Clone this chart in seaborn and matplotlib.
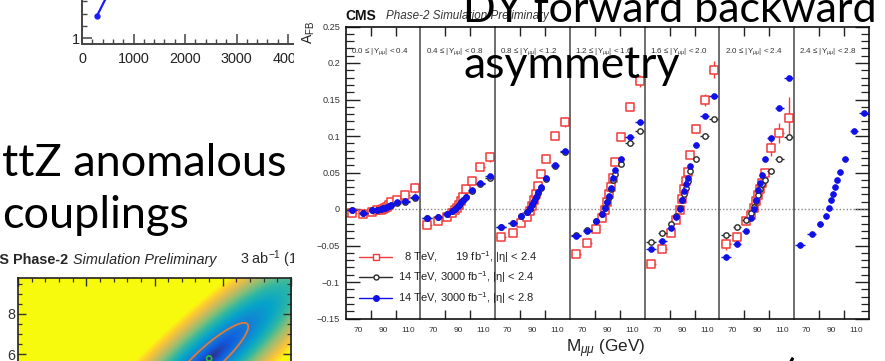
import numpy as np
import pandas as pd
import matplotlib
matplotlib.use("Agg")
import matplotlib.pyplot as plt
from matplotlib.lines import Line2D
from matplotlib.colors import LinearSegmentedColormap, PowerNorm
from matplotlib.ticker import MultipleLocator
import seaborn as sns

# ---------------------------------------------------------------- data
RAPIDITY_EDGES = ["0.0", "0.4", "0.8", "1.2", "1.6", "2.0", "2.4", "2.8"]
MASS_CENTERS = [65, 74, 81, 85.5, 88, 89.6, 91.2, 92.8, 94.4, 96.5, 101, 108, 116]
MASS_HALF_WIDTHS = [4, 3.5, 2.5, 1.5, 1, 0.8, 0.8, 0.8, 0.8, 1, 2.5, 3.5, 4]
MASS_TICK_LABELS = ["70", "90", "110"]
AFB_TICKS = [-0.15, -0.1, -0.05, 0, 0.05, 0.1, 0.15, 0.2, 0.25]
AFB_TICK_LABELS = ["\u22120.15", "\u22120.1", "\u22120.05", "0", "0.05", "0.1", "0.15", "0.2", "0.25"]

# 8 TeV, 19 fb-1, |eta| < 2.4 (rapidity bins 1-6)
AFB_8TEV = [
    [-0.006, -0.007, -0.004, -0.002, -0.001, 0.000, 0.001, 0.003, 0.005, 0.0095, 0.013, 0.019, 0.029],
    [-0.022, -0.017, -0.011, -0.006, -0.002, 0.002, 0.006, 0.011, 0.017, 0.027, 0.039, 0.058, 0.071],
    [-0.038, -0.0325, -0.0195, -0.0105, -0.003, 0.004, 0.012, 0.021, 0.032, 0.0475, 0.069, 0.100, 0.1195],
    [-0.061, -0.047, -0.027, -0.0128, -0.002, 0.010, 0.020, 0.030, 0.042, 0.064, 0.098, 0.140, 0.175],
    [-0.075, -0.055, -0.033, -0.015, -0.001, 0.014, 0.027, 0.039, 0.051, 0.074, 0.109, 0.149, 0.191],
    [-0.048, -0.039, -0.017, -0.008, 0.002, 0.011, 0.019, 0.028, 0.036, 0.050, 0.083, 0.104, 0.125],
]
AFB_8TEV_ERR = [
    [0.003, 0.002, 0.002, 0.002, 0.001, 0.001, 0.001, 0.001, 0.001, 0.002, 0.003, 0.004, 0.007],
    [0.003, 0.002, 0.002, 0.002, 0.001, 0.001, 0.001, 0.001, 0.001, 0.002, 0.003, 0.005, 0.007],
    [0.003, 0.003, 0.002, 0.002, 0.001, 0.001, 0.001, 0.001, 0.002, 0.002, 0.004, 0.005, 0.007],
    [0.004, 0.003, 0.002, 0.002, 0.001, 0.001, 0.001, 0.002, 0.002, 0.003, 0.004, 0.006, 0.008],
    [0.005, 0.004, 0.003, 0.002, 0.002, 0.002, 0.002, 0.002, 0.003, 0.004, 0.005, 0.008, 0.012],
    [0.008, 0.007, 0.005, 0.004, 0.003, 0.003, 0.003, 0.003, 0.004, 0.005, 0.010, 0.014, 0.028],
]
# 14 TeV, 3000 fb-1, |eta| < 2.4 (rapidity bins 1-6)
AFB_14TEV_ETA24 = [
    [-0.002, -0.005, -0.002, -0.001, 0.000, 0.001, 0.002, 0.003, 0.004, 0.005, 0.008, 0.010, 0.015],
    [-0.0125, -0.011, -0.007, -0.003, 0.000, 0.003, 0.006, 0.009, 0.0125, 0.0165, 0.025, 0.0345, 0.043],
    [-0.0245, -0.019, -0.0095, -0.0045, 0.0005, 0.006, 0.0105, 0.0165, 0.0225, 0.029, 0.041, 0.059, 0.0775],
    [-0.036, -0.029, -0.016, -0.007, 0.001, 0.009, 0.017, 0.027, 0.040, 0.048, 0.0616, 0.091, 0.107],
    [-0.0447, -0.0333, -0.0205, -0.009, 0.001, 0.012, 0.021, 0.029, 0.038, 0.052, 0.068, 0.100, 0.123],
    [-0.035, -0.025, -0.015, -0.006, 0.003, 0.011, 0.019, 0.027, 0.034, 0.040, 0.052, 0.068, 0.098],
]
# 14 TeV, 3000 fb-1, |eta| < 2.8 (rapidity bins 1-7)
AFB_14TEV_ETA28 = [
    [-0.001, -0.005, -0.002, -0.001, 0.000, 0.001, 0.002, 0.003, 0.004, 0.005, 0.009, 0.0105, 0.016],
    [-0.012, -0.0105, -0.0065, -0.0025, 0.0005, 0.003, 0.006, 0.0095, 0.013, 0.017, 0.026, 0.036, 0.045],
    [-0.024, -0.0187, -0.009, -0.004, 0.001, 0.0065, 0.011, 0.017, 0.023, 0.030, 0.042, 0.060, 0.0795],
    [-0.0365, -0.0297, -0.0164, -0.0068, 0.001, 0.010, 0.018, 0.029, 0.043, 0.054, 0.068, 0.098, 0.119],
    [-0.0548, -0.0438, -0.0256, -0.0105, -0.0005, 0.013, 0.0247, 0.034, 0.043, 0.059, 0.087, 0.127, 0.155],
    [-0.066, -0.048, -0.0297, -0.0128, -0.0005, 0.013, 0.026, 0.036, 0.046, 0.068, 0.097, 0.139, 0.179],
    [-0.049, -0.034, -0.021, -0.0096, 0.001, 0.012, 0.021, 0.030, 0.040, 0.051, 0.069, 0.107, 0.131],
]
LEGEND_LABELS = [
    "  8 TeV,      19 fb$^{-1}$, |\u03b7| < 2.4",
    "14 TeV, 3000 fb$^{-1}$, |\u03b7| < 2.4",
    "14 TeV, 3000 fb$^{-1}$, |\u03b7| < 2.8",
]

# significance-vs-luminosity projection (upper left inset)
LUMI_POINTS = [290, 500]
SIGNIF_POINTS = [1.45, 1.89]
LUMI_TICK_LABELS = ["0", "1000", "2000", "3000", "4000"]

# ttZ coupling likelihood scan (lower left inset)
TTZ_Y_TICKS = [6, 8]
TTZ_BEST_FIT = (0.40, 5.79)
TTZ_CONTOUR_LEVEL = 2.3

# ---------------------------------------------------------------- style
sns.set_theme(style="ticks")
plt.rcParams["font.family"] = ["Liberation Sans", "DejaVu Sans"]
plt.rcParams["mathtext.fontset"] = "custom"
plt.rcParams["mathtext.rm"] = "Liberation Sans"
plt.rcParams["mathtext.it"] = "Liberation Sans:italic"
plt.rcParams["mathtext.bf"] = "Liberation Sans:bold"
SLIDE_FONT = ["Lato", "DejaVu Sans"]

W, H = 885, 361
fig = plt.figure(figsize=(W / 100, H / 100), dpi=100)
fig.patch.set_facecolor("white")


def box(x0, y0, x1, y1):
    """Axes rectangle from pixel corners (y measured from the top)."""
    return [x0 / W, 1 - y1 / H, (x1 - x0) / W, (y1 - y0) / H]


def fx(x):
    return x / W


def fy(y):
    return 1 - y / H


# ---------------------------------------------------------------- upper-left inset
ax_l = fig.add_axes(box(82, -60, 303.5, 43.7), zorder=0)
ax_l.plot(LUMI_POINTS, SIGNIF_POINTS, color="#1a1aff", lw=1.6, marker="o", ms=3.5)
ax_l.set_xlim(0, 4300)
ax_l.set_ylim(0.884, 3.0)
ax_l.set_xticks([0, 1000, 2000, 3000, 4000])
ax_l.set_xticklabels(LUMI_TICK_LABELS)
ax_l.xaxis.set_minor_locator(MultipleLocator(200))
ax_l.set_yticks([1, 2])
ax_l.set_yticklabels(["1", "2"])
ax_l.yaxis.set_minor_locator(MultipleLocator(0.25))
ax_l.tick_params(which="major", direction="in", length=7, width=1.1, colors="#444",
                 labelcolor="#222", labelsize=10.4)
ax_l.tick_params(axis="x", which="major", pad=6)
ax_l.tick_params(axis="y", which="major", pad=1.5)
ax_l.tick_params(which="minor", direction="in", length=3.5, width=1.0, colors="#444")
for s in ("top", "right"):
    ax_l.spines[s].set_visible(False)
for s in ("left", "bottom"):
    ax_l.spines[s].set_color("#444")
    ax_l.spines[s].set_linewidth(1.4)
ax_l.patch.set_alpha(0)

# ---------------------------------------------------------------- lower-left inset
bird = LinearSegmentedColormap.from_list("bird", [
    (0.2082, 0.1664, 0.5293), (0.0592, 0.3599, 0.8684), (0.0780, 0.5041, 0.8385),
    (0.0232, 0.6419, 0.7914), (0.1802, 0.7178, 0.6425), (0.5301, 0.7492, 0.4662),
    (0.8186, 0.7328, 0.3499), (0.9956, 0.7862, 0.1968), (0.9764, 0.9832, 0.0539)])

ax_h = fig.add_axes(box(18, 277.7, 291, 394.6), zorder=0)
ax_h.set_xlim(-1.0, 1.0)
ax_h.set_ylim(4.0, 9.8)
gx = np.linspace(-1.0, 1.0, 400)
gy = np.linspace(4.0, 9.8, 240)
GX, GY = np.meshgrid(gx, gy)
# Gaussian -2 dlnL with a strong correlation between the two couplings
disp = ax_h.transData.transform(np.column_stack([GX.ravel(), GY.ravel()]))
best = ax_h.transData.transform([TTZ_BEST_FIT])[0]
d = disp - best
theta = np.deg2rad(42)
u = d[:, 0] * np.cos(theta) + d[:, 1] * np.sin(theta)
v = -d[:, 0] * np.sin(theta) + d[:, 1] * np.cos(theta)
chi2 = ((u / 34.0) ** 2 + (v / 8.0) ** 2).reshape(GX.shape)
ax_h.imshow(chi2, origin="lower", extent=(-1.0, 1.0, 4.0, 9.8), aspect="auto",
            cmap=bird, norm=PowerNorm(gamma=0.5, vmin=0, vmax=40), interpolation="bilinear")
ax_h.contour(GX, GY, chi2, levels=[TTZ_CONTOUR_LEVEL], colors=["#e07a3a"], linewidths=1.3)
ax_h.scatter([TTZ_BEST_FIT[0]], [TTZ_BEST_FIT[1]], s=14, facecolor="none",
             edgecolor="#22c43a", linewidth=1.2, zorder=4)
ax_h.set_yticks(TTZ_Y_TICKS)
ax_h.set_yticklabels([str(t) for t in TTZ_Y_TICKS])
ax_h.yaxis.set_minor_locator(MultipleLocator(0.5))
ax_h.xaxis.set_major_locator(MultipleLocator(0.5))
ax_h.xaxis.set_minor_locator(MultipleLocator(0.1))
ax_h.tick_params(which="major", direction="in", length=6, width=1.0, top=True, right=True,
                 labelbottom=False, labelsize=10.4, pad=2, colors="#333")
ax_h.tick_params(which="minor", direction="in", length=3, width=0.9, top=True, right=True,
                 colors="#333")
for s in ax_h.spines.values():
    s.set_color("#222")
    s.set_linewidth(1.2)

fig.text(fx(68), fy(264), "CMS Phase-2", ha="right", va="baseline", fontsize=10.4,
         fontweight="bold", zorder=0.5)
fig.text(fx(73), fy(264), "Simulation Preliminary", ha="left", va="baseline",
         fontsize=10.4, style="italic", zorder=0.5)
fig.text(fx(240), fy(264), "3 ab$^{-1}$ (14 TeV)", ha="left", va="baseline",
         fontsize=10.4, zorder=0.5)

# ---------------------------------------------------------------- white backdrop of the A_FB figure
ax_bg = fig.add_axes(box(294, 0, 885, 361), zorder=1)
ax_bg.set_xticks([])
ax_bg.set_yticks([])
for s in ax_bg.spines.values():
    s.set_visible(False)
ax_bg.set_facecolor("white")

# ---------------------------------------------------------------- A_FB panels
rows = []
series_info = [
    ("8tev", AFB_8TEV, AFB_8TEV_ERR),
    ("14tev24", AFB_14TEV_ETA24, None),
    ("14tev28", AFB_14TEV_ETA28, None),
]
for name, values, errors in series_info:
    for p, vals in enumerate(values):
        for i, (m, a) in enumerate(zip(MASS_CENTERS, vals)):
            rows.append(dict(panel=p, series=name, mass=m, afb=a,
                             xerr=MASS_HALF_WIDTHS[i],
                             yerr=errors[p][i] if errors is not None else 0.0))
df = pd.DataFrame(rows)

styles = {
    "8tev": dict(color="#f23a3a", marker="s", s=28, open=True, lw=1.1, z=3),
    "14tev24": dict(color="#2b2b2b", marker="o", s=15, open=True, lw=1.0, z=4),
    "14tev28": dict(color="#1010e8", marker="o", s=17, open=False, lw=0.6, z=5),
}

PX0, PW, TOP, BOT = 345.7, 74.75, 26.5, 318.5
panels = []
for p in range(7):
    x0 = PX0 + p * PW
    ax = fig.add_axes(box(x0, TOP, x0 + PW, BOT), zorder=2)
    panels.append(ax)
    ax.axhline(0, color="#888", ls=(0, (1, 1.5)), lw=1.0, zorder=1)
    for name in ("8tev", "14tev24", "14tev28"):
        sub = df[(df.panel == p) & (df.series == name)]
        if sub.empty:
            continue
        st = styles[name]
        ax.errorbar(sub.mass, sub.afb, xerr=sub.xerr,
                    yerr=sub.yerr if name == "8tev" else None,
                    fmt="none", ecolor=st["color"], elinewidth=1.0, capsize=0, zorder=st["z"])
        sns.scatterplot(data=sub, x="mass", y="afb", ax=ax, marker=st["marker"], s=st["s"],
                        color=st["color"], edgecolor=st["color"], linewidth=st["lw"],
                        legend=False, zorder=st["z"] + 0.5)
        if st["open"]:
            # hollow markers: white inside so the error bars stop at the marker edge
            ax.collections[-1].set_facecolor("white")
    ax.set_xlabel("")
    ax.set_ylabel("")
    ax.set_xlim(60, 120)
    ax.set_ylim(-0.15, 0.25)
    ax.set_xticks([70, 90, 110])
    ax.set_xticklabels(MASS_TICK_LABELS)
    ax.set_xticks([80, 100], minor=True)
    ax.tick_params(axis="x", which="major", length=0, labelsize=6, pad=6, labelcolor="#333")
    ax.tick_params(axis="x", which="minor", direction="in", length=6.5, width=1.0,
                   top=True, bottom=True, color="#222")
    ax.set_yticks(AFB_TICKS)
    ax.yaxis.set_minor_locator(MultipleLocator(0.01))
    if p == 0:
        ax.set_yticklabels(AFB_TICK_LABELS)
        ax.tick_params(axis="y", which="major", direction="in", length=10, width=1.0,
                       left=True, right=False, labelsize=6.6, pad=4, labelcolor="#333",
                       color="#222")
        ax.tick_params(axis="y", which="minor", direction="in", length=5.5, width=0.9,
                       left=True, right=False, color="#222")
    elif p == 6:
        ax.tick_params(axis="y", which="major", direction="in", length=10, width=1.0,
                       left=False, right=True, labelleft=False, color="#222")
        ax.tick_params(axis="y", which="minor", direction="in", length=5.5, width=0.9,
                       left=False, right=True, color="#222")
    else:
        ax.tick_params(axis="y", which="both", left=False, right=False, labelleft=False)
    for s in ax.spines.values():
        s.set_color("#111")
        s.set_linewidth(1.2)
    if p > 0:
        ax.spines["left"].set_color("#555")
    if p < 6:
        ax.spines["right"].set_visible(False)
    ax.patch.set_alpha(0)
    ax.text(0.07, 0.915, f"{RAPIDITY_EDGES[p]} \u2264 |Y$_{{\\mu\\mu}}$| < {RAPIDITY_EDGES[p + 1]}",
            transform=ax.transAxes, fontsize=5.8, color="#333", ha="left", va="center")

fig.text(fx(345.7), fy(19.5), "CMS", fontsize=10, fontweight="bold", ha="left",
         va="baseline", color="#111", zorder=3)
fig.text(fx(386), fy(19.5), "Phase-2 Simulation Preliminary", fontsize=8.4, style="italic",
         ha="left", va="baseline", color="#333", zorder=3)
fig.text(fx(309), fy(21), "A$_{\\mathrm{FB}}$", rotation=90, ha="center", va="top",
         fontsize=10, color="#222", zorder=3)
fig.text(fx(645), fy(352.5), "M$_{\\mu\\mu}$ (GeV)", ha="right", va="baseline",
         fontsize=12.3, color="#222", zorder=3)

handles = [
    Line2D([], [], color=styles["8tev"]["color"], lw=1.0, marker="s", ms=5.0,
           mfc="white", mec=styles["8tev"]["color"], mew=1.0),
    Line2D([], [], color=styles["14tev24"]["color"], lw=1.0, marker="o", ms=3.6,
           mfc="white", mec=styles["14tev24"]["color"], mew=1.0),
    Line2D([], [], color=styles["14tev28"]["color"], lw=1.0, marker="o", ms=4.0,
           mfc=styles["14tev28"]["color"], mec=styles["14tev28"]["color"]),
]
fig.legend(handles, LEGEND_LABELS, loc="upper left", bbox_to_anchor=(fx(359), fy(249)),
           frameon=False, fontsize=8, handlelength=3.0, handletextpad=0.55,
           labelspacing=0.42, borderpad=0, borderaxespad=0, labelcolor="#222")

# ---------------------------------------------------------------- slide titles
fig.text(fx(463), fy(22), "DY forward backward", fontsize=31, family=SLIDE_FONT,
         ha="left", va="baseline", color="black", zorder=6)
fig.text(fx(463), fy(77.5), "asymmetry", fontsize=32, family=SLIDE_FONT,
         ha="left", va="baseline", color="black", zorder=6)
fig.text(fx(2), fy(176), "ttZ anomalous", fontsize=32.5, family=SLIDE_FONT,
         ha="left", va="baseline", color="black", zorder=6)
fig.text(fx(2), fy(228), "couplings", fontsize=32.5, family=SLIDE_FONT,
         ha="left", va="baseline", color="black", zorder=6)
fig.text(fx(784), fy(390), "(         )", fontsize=31, family=SLIDE_FONT,
         ha="left", va="baseline", color="black", zorder=6)

fig.savefig("out.png", dpi=100, facecolor="white")
